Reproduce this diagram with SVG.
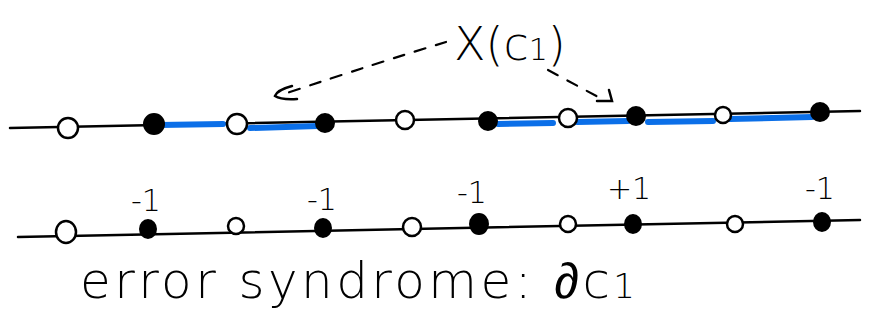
<svg xmlns="http://www.w3.org/2000/svg" width="873" height="328" viewBox="0 0 873 328">
<defs>
<style>
.ln{stroke:#000;stroke-width:2.5;fill:none;stroke-linecap:round}
.blue{stroke:#0b6fe8;stroke-width:6;fill:none;stroke-linecap:round}
.open{fill:#fff;stroke:#000;stroke-width:2.5}
.fill{fill:#000;stroke:#000;stroke-width:2}
.dash{stroke:#000;stroke-width:2.2;fill:none;stroke-dasharray:11 11;stroke-linecap:round}
.t{font-family:"DejaVu Sans","Liberation Sans",sans-serif;font-weight:200;fill:#000}
.pd{font-family:"Liberation Sans",sans-serif;font-weight:400}
.lab{font-family:"DejaVu Sans","Liberation Sans",sans-serif;font-weight:200;font-size:30px;fill:#000;text-anchor:middle}
</style>
</defs>
<rect width="873" height="328" fill="#fff"/>
<g id="connectors">
  <line class="ln" x1="10" y1="128" x2="860" y2="111"/>
  <line class="blue" x1="160" y1="125" x2="223" y2="124"/>
  <line class="blue" x1="250" y1="128" x2="318" y2="126"/>
  <line class="blue" x1="498" y1="124" x2="553" y2="123"/>
  <line class="blue" x1="577" y1="122" x2="628" y2="121"/>
  <line class="blue" x1="648" y1="122" x2="713" y2="121"/>
  <line class="blue" x1="730" y1="119" x2="812" y2="117"/>
  <path class="dash" d="M446 42 Q380 62 284 94"/>
  <path class="ln" d="M292 86 Q277 90 275 96 Q281 100 297 99"/>
  <path class="dash" d="M548 70 L600 98"/>
  <path class="ln" d="M597 101 L612 101 L609 90"/>
  <line class="ln" x1="18" y1="237" x2="860" y2="220"/>
</g>
<g id="top-nodes">
  <circle id="t1" class="open" cx="68" cy="128" r="10"/>
  <circle id="t2" class="fill" cx="154" cy="124" r="10"/>
  <circle id="t3" class="open" cx="237" cy="124" r="10"/>
  <circle id="t4" class="fill" cx="325" cy="123" r="9"/>
  <circle id="t5" class="open" cx="405" cy="120" r="9"/>
  <circle id="t6" class="fill" cx="488" cy="121" r="9"/>
  <circle id="t7" class="open" cx="568" cy="118" r="9"/>
  <circle id="t8" class="fill" cx="636" cy="116" r="9"/>
  <circle id="t9" class="open" cx="723" cy="115" r="8"/>
  <circle id="t10" class="fill" cx="820" cy="112" r="9"/>
</g>
<g id="label-X">
  <text class="t" x="454" y="60" font-size="46">X(c<tspan font-size="30">1</tspan>)</text>
</g>
<g id="bottom-nodes">
  <ellipse id="b1" class="open" cx="66" cy="232" rx="10" ry="11"/>
  <ellipse id="b2" class="fill" cx="148" cy="229" rx="8" ry="9"/>
  <ellipse id="b3" class="open" cx="236" cy="226" rx="8" ry="8"/>
  <ellipse id="b4" class="fill" cx="323" cy="228" rx="8" ry="9"/>
  <ellipse id="b5" class="open" cx="412" cy="227" rx="9" ry="9"/>
  <ellipse id="b6" class="fill" cx="479" cy="224" rx="9" ry="10"/>
  <ellipse id="b7" class="open" cx="568" cy="224" rx="8" ry="8"/>
  <ellipse id="b8" class="fill" cx="633" cy="224" rx="8" ry="9"/>
  <ellipse id="b9" class="open" cx="735" cy="224" rx="8" ry="8"/>
  <ellipse id="b10" class="fill" cx="822" cy="222" rx="8" ry="9"/>
</g>
<g id="labels">
  <text class="lab" x="146" y="211">-1</text>
  <text class="lab" x="322" y="210">-1</text>
  <text class="lab" x="472" y="203">-1</text>
  <text class="lab" x="629" y="199">+1</text>
  <text class="lab" x="820" y="199">-1</text>
</g>
<g id="caption">
  <text class="t" x="80" y="298" font-size="50" textLength="555" lengthAdjust="spacing">error  syndrome: <tspan class="pd">∂</tspan>c<tspan font-size="34">1</tspan></text>
</g>
</svg>
